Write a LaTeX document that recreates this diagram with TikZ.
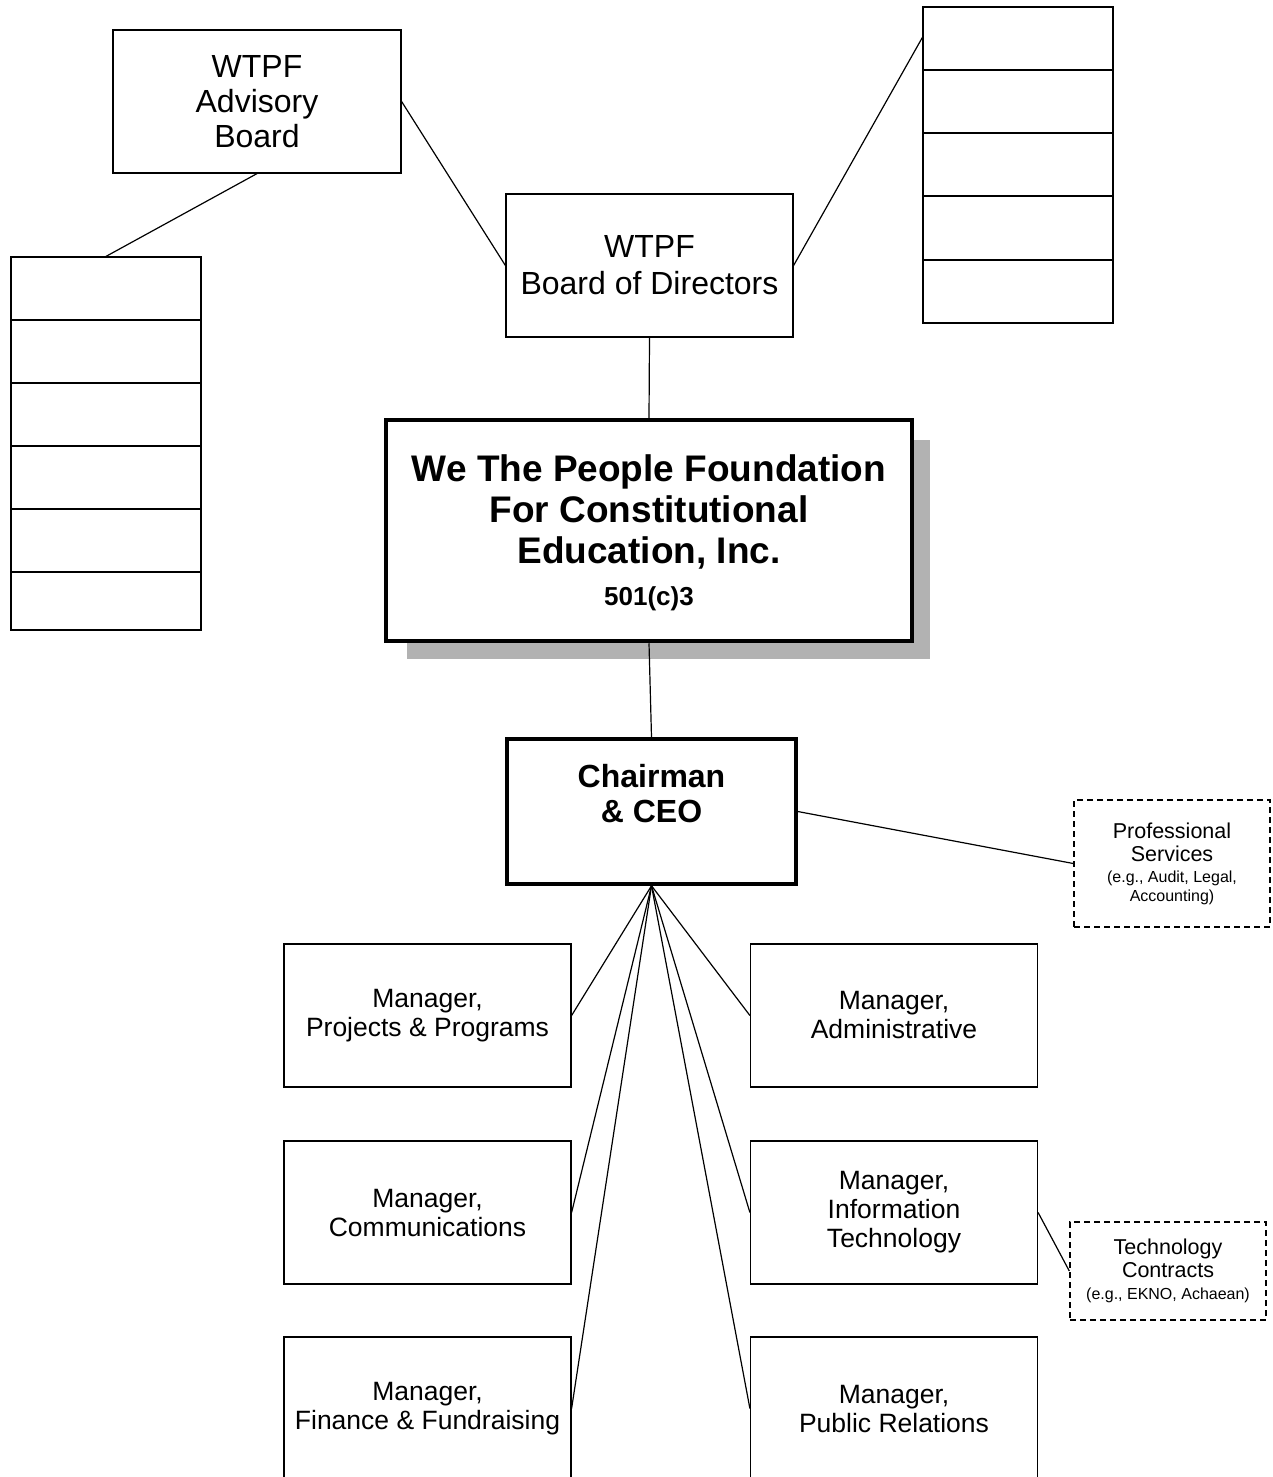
\documentclass[tikz,border=0pt]{standalone}
\usepackage{fontspec}
\setmainfont{Liberation Sans}
\usetikzlibrary{calc}
\newcommand{\fsz}[2]{\fontsize{#1}{#2}\selectfont}
\tikzset{
  x=1pt, y=-1pt,
  box/.style={draw, line width=1.2pt, inner sep=0pt, align=center, fill=white},
  dbox/.style={box, dashed, dash pattern=on 6pt off 4pt, line width=1.4pt},
  conn/.style={line width=1.2pt},
  cell/.style={draw, line width=1.2pt},
}
\begin{document}
\begin{tikzpicture}
\clip (0,0) rectangle (1273,1477);
\fill[white] (0,0) rectangle (1273,1477);

% Advisory board
\node[box, minimum width=288pt, minimum height=143pt, font=\fsz{32}{35}] (adv) at (257,101.5) {WTPF\\Advisory\\Board};

% Left stack
\node[box, minimum width=190pt, minimum height=373pt] (lstack) at (106,443.5) {};
\foreach \yy in {320,383,446,509,572} \draw[cell] (11,\yy) -- (201,\yy);

% Board of directors
\node[box, minimum width=287pt, minimum height=143pt, font=\fsz{32}{37}] (bod) at (649.5,265.5) {WTPF\\Board of Directors};

% Right stack
\node[box, minimum width=190pt, minimum height=316pt] (rstack) at (1018,165) {};
\foreach \yy in {70,133,196,260} \draw[cell] (923,\yy) -- (1113,\yy);
\coordinate (rhit) at ($(rstack.north west)+(0,31)$);

% Main foundation box with shadow
\fill[black!30] (407,440) rectangle (930,659);
\node[box, line width=4.5pt, minimum width=526pt, minimum height=221pt] (main) at (649,530.5) {};
\node[align=center, font=\bfseries\fsz{37}{41}] (maintext) at (649,512) {We The People Foundation\\For Constitutional\\Education, Inc.};
\node[font=\bfseries\fsz{26}{28}] (mainsub) at (649,599) {501(c)3};

% Chairman
\node[box, line width=3.5pt, minimum width=289pt, minimum height=145pt] (chair) at (651.5,811.5) {};
\node[align=center, font=\bfseries\fsz{32}{35}] (chairtext) at (651.5,793.5) {Chairman\\\&\ CEO};

% Professional services
\node[dbox, minimum width=196pt, minimum height=127pt, font=\fsz{21.5}{23}] (prof) at (1172,863.5)
  {Professional\\Services\\[-2pt]{\fsz{16}{19}(e.g., Audit, Legal,}\\[-4pt]{\fsz{16}{19}Accounting)}};

% Managers
\tikzset{mgr/.style={box, minimum width=287pt, minimum height=143pt, font=\fsz{26.5}{29}}}
\node[mgr] (m1) at (427.5,1015.5) {Manager,\\Projects \& Programs};
\node[mgr] (m2) at (427.5,1212.5) {Manager,\\Communications};
\node[mgr] (m3) at (427.5,1408.5) {Manager,\\Finance \& Fundraising};
\node[mgr] (m4) at (894,1015.5) {Manager,\\Administrative};
\node[mgr] (m5) at (894,1212.5) {Manager,\\Information\\Technology};
\node[mgr] (m6) at (894,1408.5) {Manager,\\Public Relations};

% Technology contracts
\node[dbox, minimum width=196pt, minimum height=98pt, font=\fsz{21.5}{23}] (tech) at (1168,1271)
  {Technology\\Contracts\\[-1pt]{\fsz{16}{19}(e.g., EKNO, Achaean)}};

% Connectors
\draw[conn] (adv.south) -- (lstack.north);
\draw[conn] (adv.east) -- (bod.west);
\draw[conn] (bod.east) -- (rhit);
\draw[conn] (bod.south) -- (main.north);
\draw[conn] (main.south) -- (chair.north);
\draw[conn] (chair.east) -- (prof.west);
\foreach \m in {m1,m2,m3} \draw[conn] (chair.south) -- (\m.east);
\foreach \m in {m4,m5,m6} \draw[conn] (chair.south) -- (\m.west);
\draw[conn] (m5.east) -- (tech.west);
\end{tikzpicture}
\end{document}
